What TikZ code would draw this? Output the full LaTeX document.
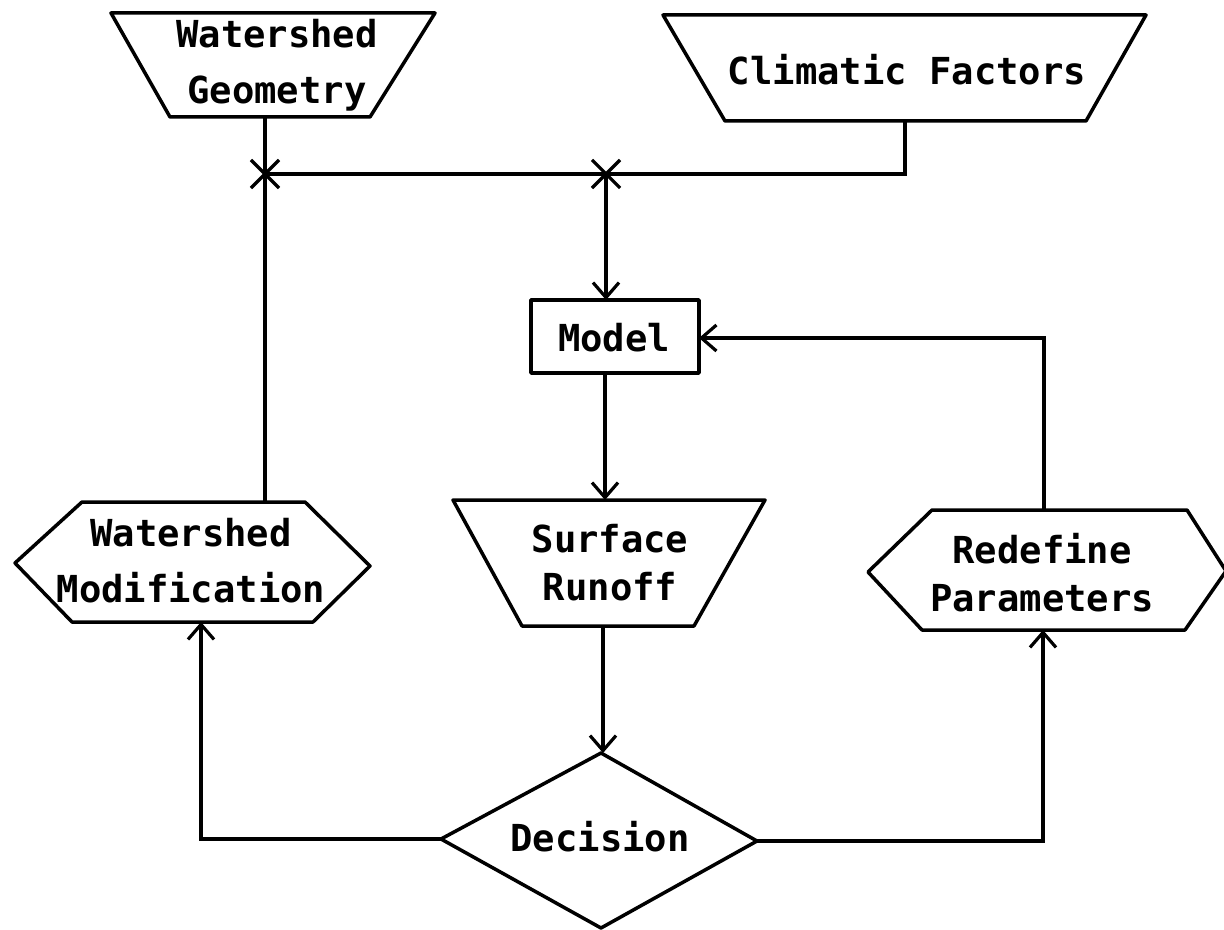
\documentclass[tikz,border=0pt]{standalone}
\usepackage{fontspec}
\setmainfont{DejaVu Sans Mono}
\usetikzlibrary{arrows.meta,shapes.misc}

\tikzset{
  outline/.style={draw, line width=1.75pt, line join=round},
  wire/.style={draw, line width=1.65pt},
  flow/.style={wire, -{Straight Barb[length=7.5pt,width=13pt,line width=1.6pt]}},
  txt/.style={font=\bfseries\fontsize{18.6}{28}\selectfont, align=center, inner sep=0pt},
  tighttxt/.style={txt, font=\bfseries\fontsize{18.6}{24}\selectfont},
  xmark/.style={draw, cross out, line width=1.6pt, minimum width=12.5pt, minimum height=12.5pt, inner sep=0pt}
}

\begin{document}
\begin{tikzpicture}[x=0.5pt,y=-0.5pt]
\useasboundingbox (0,0) rectangle (1224,930);

% input boxes
\draw[outline] (111,13) -- (435,13) -- (370,117) -- (170,117) -- cycle;
\node[txt] (wg) at (277,65) {Watershed\\Geometry};
\coordinate (wg-b) at (265,117);

\draw[outline] (663,15) -- (1146,15) -- (1086,121) -- (725,121) -- cycle;
\node[txt] (cf) at (907,70) {Climatic Factors};
\coordinate (cf-b) at (905,121);

% junctions
\coordinate (j1) at (265,174);
\coordinate (j2) at (606,174);

% model
\node[outline, minimum width=84pt, minimum height=36.5pt, inner sep=0pt] (model) at (615,336.5) {};
\node[txt] (modeltxt) at (614,338) {Model};
\coordinate (model-t) at (606,300);
\coordinate (model-b) at (605,373);
\coordinate (model-r) at (699,338);

% surface runoff
\draw[outline] (453,500) -- (765,500) -- (694,626) -- (522,626) -- cycle;
\node[tighttxt] (sr) at (610,563) {Surface\\Runoff};
\coordinate (sr-t) at (605,500);
\coordinate (sr-b) at (603,626);

% decision
\draw[outline] (601,753) -- (757,841) -- (601,928) -- (441,839) -- cycle;
\node[txt] (dec) at (600,837) {Decision};
\coordinate (dec-t) at (603,753);
\coordinate (dec-l) at (441,839);
\coordinate (dec-r) at (757,841);

% watershed modification
\draw[outline] (15,563) -- (82,502) -- (305,502) -- (370,566) -- (313,622) -- (72,622) -- cycle;
\node[txt] (wm) at (191,561) {Watershed\\Modification};
\coordinate (wm-t) at (265,502);
\coordinate (wm-b) at (201,622);

% redefine parameters
\draw[outline] (868,572) -- (932,510) -- (1187,510) -- (1226,571) -- (1185,630) -- (922,630) -- cycle;
\node[tighttxt] (rp) at (1042,573) {Redefine\\Parameters};
\coordinate (rp-t) at (1044,510);
\coordinate (rp-b) at (1043,630);

% connectors
\draw[wire] (wg-b) -- (wm-t);
\draw[wire] (cf-b) |- (j1);
\draw[flow] (j2) -- (model-t);
\draw[flow] (model-b) -- (sr-t);
\draw[flow] (sr-b) -- (dec-t);
\draw[flow] (dec-l) -| (wm-b);
\draw[flow] (dec-r) -| (rp-b);
\draw[flow] (rp-t) |- (model-r);

\node[xmark] (x1) at (j1) {};
\node[xmark] (x2) at (j2) {};
\end{tikzpicture}
\end{document}
